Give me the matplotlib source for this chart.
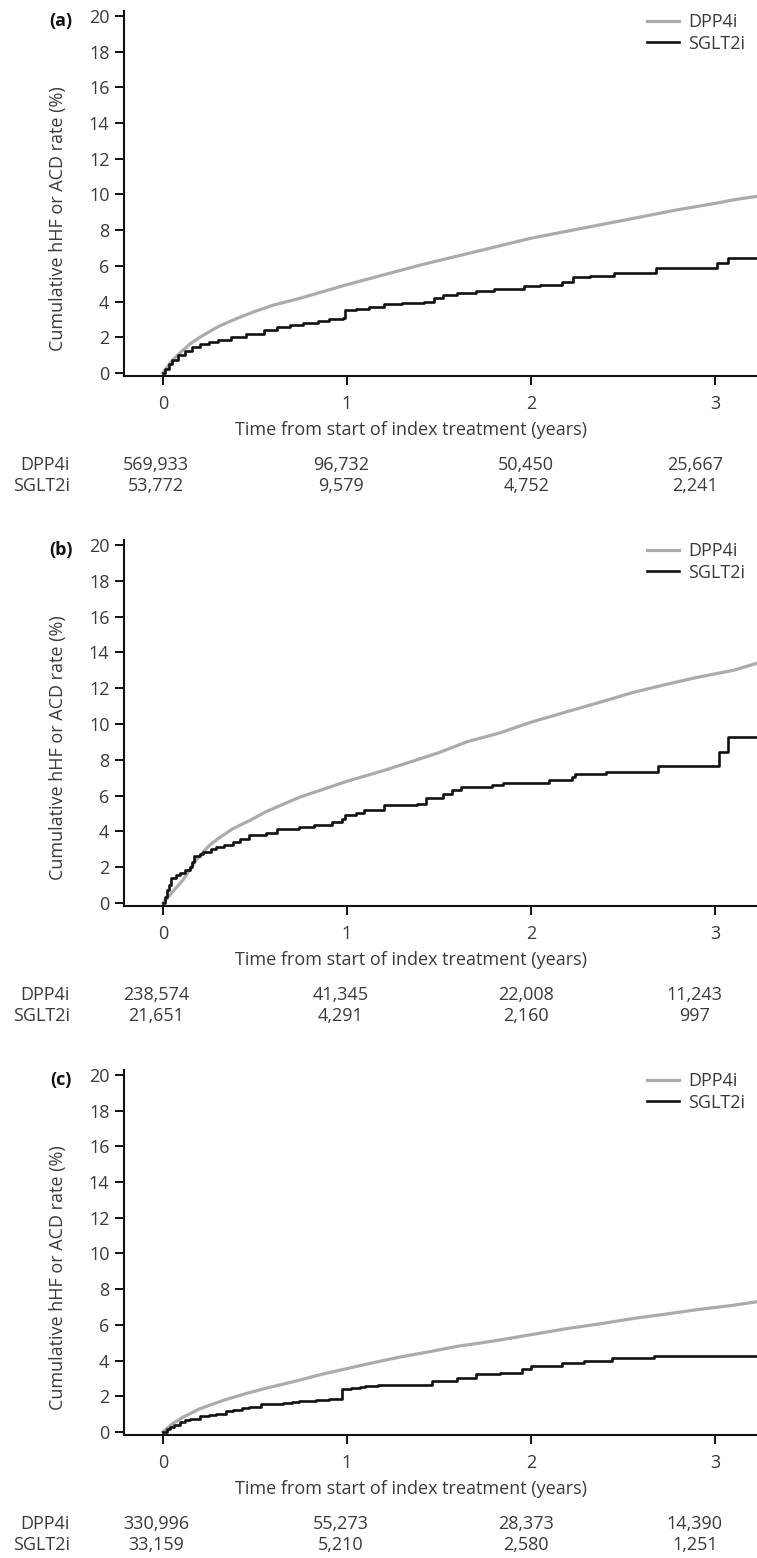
import matplotlib
matplotlib.use('Agg')
import matplotlib.pyplot as plt
from matplotlib.transforms import blended_transform_factory

plt.rcParams['font.family'] = ['Open Sans', 'DejaVu Sans']

# ---------------- data ----------------
panel_labels = ['(a)', '(b)', '(c)']
series_names = ['DPP4i', 'SGLT2i']
x_ticks = [0, 1, 2, 3]
y_ticks = [0, 2, 4, 6, 8, 10, 12, 14, 16, 18, 20]
x_label = 'Time from start of index treatment (years)'
y_label = 'Cumulative hHF or ACD rate (%)'

# Panel (a)
a_dpp4_t = [0, 0.05, 0.1, 0.15, 0.2, 0.3, 0.4, 0.5, 0.6, 0.75, 0.9, 1.0, 1.2, 1.4, 1.6,
            1.8, 2.0, 2.2, 2.4, 2.6, 2.8, 3.0, 3.1, 3.23]
a_dpp4_y = [0, 0.7, 1.2, 1.65, 2.0, 2.6, 3.05, 3.45, 3.8, 4.2, 4.65, 4.95, 5.5, 6.05, 6.55,
            7.05, 7.55, 7.95, 8.35, 8.75, 9.15, 9.5, 9.7, 9.9]
a_sglt2_t = [0, 0.01, 0.03, 0.05, 0.08, 0.12, 0.16, 0.2, 0.25, 0.3, 0.37, 0.45, 0.55, 0.62,
             0.69, 0.76, 0.84, 0.9, 0.98, 0.99, 1.05, 1.12, 1.2, 1.3, 1.42, 1.47, 1.52, 1.6,
             1.7, 1.8, 1.96, 2.05, 2.17, 2.23, 2.32, 2.45, 2.68, 3.01, 3.07, 3.23]
a_sglt2_y = [0, 0.2, 0.5, 0.75, 1.0, 1.25, 1.45, 1.6, 1.75, 1.85, 2.0, 2.2, 2.4, 2.55,
             2.7, 2.8, 2.9, 3.0, 3.1, 3.5, 3.6, 3.7, 3.85, 3.9, 3.95, 4.2, 4.35, 4.5,
             4.6, 4.7, 4.85, 4.95, 5.1, 5.35, 5.45, 5.6, 5.9, 6.15, 6.45, 6.45]

# Panel (b)
b_dpp4_t = [0, 0.05, 0.11, 0.18, 0.25, 0.3, 0.38, 0.47, 0.56, 0.65, 0.74, 0.87, 1.0, 1.2,
            1.35, 1.5, 1.65, 1.83, 2.0, 2.2, 2.37, 2.55, 2.73, 2.9, 3.1, 3.23]
b_dpp4_y = [0, 0.6, 1.3, 2.4, 3.2, 3.6, 4.15, 4.6, 5.1, 5.5, 5.9, 6.35, 6.8, 7.4,
            7.9, 8.4, 9.0, 9.5, 10.1, 10.7, 11.2, 11.75, 12.2, 12.6, 13.0, 13.4]
b_sglt2_t = [0, 0.01, 0.02, 0.03, 0.045, 0.07, 0.09, 0.12, 0.145, 0.16, 0.17, 0.2, 0.22,
             0.26, 0.29, 0.33, 0.38, 0.42, 0.47, 0.56, 0.62, 0.74, 0.82, 0.92, 0.97, 0.99,
             1.05, 1.09, 1.2, 1.38, 1.43, 1.52, 1.57, 1.62, 1.79, 1.85, 2.1, 2.22, 2.24,
             2.41, 2.69, 3.02, 3.07, 3.23]
b_sglt2_y = [0, 0.35, 0.7, 1.0, 1.4, 1.55, 1.7, 1.85, 2.0, 2.3, 2.6, 2.75, 2.85,
             3.0, 3.1, 3.25, 3.4, 3.6, 3.8, 3.9, 4.15, 4.25, 4.35, 4.5, 4.7, 4.9,
             5.0, 5.2, 5.45, 5.55, 5.85, 6.1, 6.3, 6.5, 6.6, 6.7, 6.85, 7.05, 7.2,
             7.3, 7.65, 8.45, 9.3, 9.3]

# Panel (c)
c_dpp4_t = [0, 0.05, 0.11, 0.2, 0.33, 0.45, 0.56, 0.74, 0.87, 1.0, 1.15, 1.29, 1.45, 1.6,
            1.8, 2.0, 2.2, 2.37, 2.55, 2.73, 2.9, 3.1, 3.23]
c_dpp4_y = [0, 0.45, 0.84, 1.3, 1.78, 2.15, 2.45, 2.9, 3.25, 3.55, 3.9, 4.2, 4.5, 4.8,
            5.1, 5.45, 5.8, 6.05, 6.35, 6.6, 6.85, 7.1, 7.3]
c_sglt2_t = [0, 0.02, 0.04, 0.06, 0.09, 0.12, 0.145, 0.2, 0.25, 0.29, 0.34, 0.38, 0.43,
             0.47, 0.53, 0.65, 0.7, 0.74, 0.83, 0.9, 0.97, 1.02, 1.07, 1.1, 1.17, 1.46,
             1.6, 1.7, 1.83, 1.95, 2.0, 2.17, 2.29, 2.44, 2.67, 3.23]
c_sglt2_y = [0, 0.15, 0.28, 0.4, 0.56, 0.68, 0.75, 0.88, 0.95, 1.03, 1.15, 1.25, 1.33,
             1.4, 1.58, 1.6, 1.68, 1.74, 1.81, 1.85, 2.43, 2.48, 2.52, 2.6, 2.64, 2.86,
             3.0, 3.23, 3.3, 3.5, 3.68, 3.87, 4.0, 4.15, 4.24, 4.24]

# Numbers at risk
a_risk_dpp4 = ['569,933', '96,732', '50,450', '25,667']
a_risk_sglt2 = ['53,772', '9,579', '4,752', '2,241']
b_risk_dpp4 = ['238,574', '41,345', '22,008', '11,243']
b_risk_sglt2 = ['21,651', '4,291', '2,160', '997']
c_risk_dpp4 = ['330,996', '55,273', '28,373', '14,390']
c_risk_sglt2 = ['33,159', '5,210', '2,580', '1,251']

panels = [
    (a_dpp4_t, a_dpp4_y, a_sglt2_t, a_sglt2_y, a_risk_dpp4, a_risk_sglt2),
    (b_dpp4_t, b_dpp4_y, b_sglt2_t, b_sglt2_y, b_risk_dpp4, b_risk_sglt2),
    (c_dpp4_t, c_dpp4_y, c_sglt2_t, c_sglt2_y, c_risk_dpp4, c_risk_sglt2),
]

# ---------------- layout ----------------
W, H = 757, 1558
fig = plt.figure(figsize=(W / 100, H / 100), dpi=100)
TXT = '#3a3a3a'
GRAY = '#ababab'
BLACK = '#111111'
FS = 13

ax_left, ax_right = 124, 757
ax_tops = [11, 540, 1070]
ax_bottoms = [376, 906, 1435]
risk_x = [-0.038, 0.967, 1.973, 2.89]

for i, (dt, dy, st, sy, rd, rs) in enumerate(panels):
    top, bot = ax_tops[i], ax_bottoms[i]
    ax = fig.add_axes([ax_left / W, 1 - bot / H, (ax_right - ax_left) / W, (bot - top) / H])
    hpx = bot - top
    wpx = ax_right - ax_left

    ax.plot(dt, dy, color=GRAY, lw=2.3, label=series_names[0], solid_joinstyle='round')
    ax.plot(st, sy, color=BLACK, lw=1.9, drawstyle='steps-post', label=series_names[1])

    ax.set_xlim(-0.212, 3.228)
    ax.set_ylim(-0.17, 20.28)
    ax.set_xticks(x_ticks)
    ax.set_yticks(y_ticks)
    for s in ['top', 'right']:
        ax.spines[s].set_visible(False)
    for s in ['left', 'bottom']:
        ax.spines[s].set_linewidth(1.5)
        ax.spines[s].set_color('#111111')
    ax.tick_params(axis='both', length=6.5, width=1.4, color='#111111',
                   labelsize=FS, labelcolor=TXT)
    ax.tick_params(axis='y', pad=4)
    ax.tick_params(axis='x', pad=7)

    ax.set_ylabel(y_label, fontsize=FS, color=TXT)
    ax.yaxis.set_label_coords((58 - ax_left) / wpx, (hpx - (219 - 11)) / hpx)
    ax.yaxis.label.set_va('center')
    ax.yaxis.label.set_ha('center')

    ax.set_xlabel(x_label, fontsize=FS, color=TXT)
    ax.xaxis.set_label_coords((411 - ax_left) / wpx, -54 / hpx)
    ax.xaxis.label.set_va('center')

    ax.text((61 - ax_left) / wpx, (hpx - 10) / hpx, panel_labels[i], transform=ax.transAxes,
            fontsize=FS, fontweight='bold', color='#111111', ha='center', va='center')

    ax.legend(loc='upper right', frameon=False, fontsize=FS,
              handlelength=1.75, handletextpad=0.5, labelspacing=0.2,
              borderpad=0, borderaxespad=0,
              bbox_to_anchor=((745 - ax_left) / wpx, (hpx - 2) / hpx),
              labelcolor=TXT)

    tr = blended_transform_factory(ax.transData, ax.transAxes)
    y1 = -89 / hpx
    y2 = -110 / hpx
    ax.text((70 - ax_left) / wpx, y1, series_names[0], transform=ax.transAxes,
            ha='right', va='center', fontsize=FS, color=TXT)
    ax.text((70 - ax_left) / wpx, y2, series_names[1], transform=ax.transAxes,
            ha='right', va='center', fontsize=FS, color=TXT)
    for xv, n1, n2 in zip(risk_x, rd, rs):
        ax.text(xv, y1, n1, transform=tr, ha='center', va='center', fontsize=FS, color=TXT)
        ax.text(xv, y2, n2, transform=tr, ha='center', va='center', fontsize=FS, color=TXT)

fig.savefig('out.png', dpi=100)
